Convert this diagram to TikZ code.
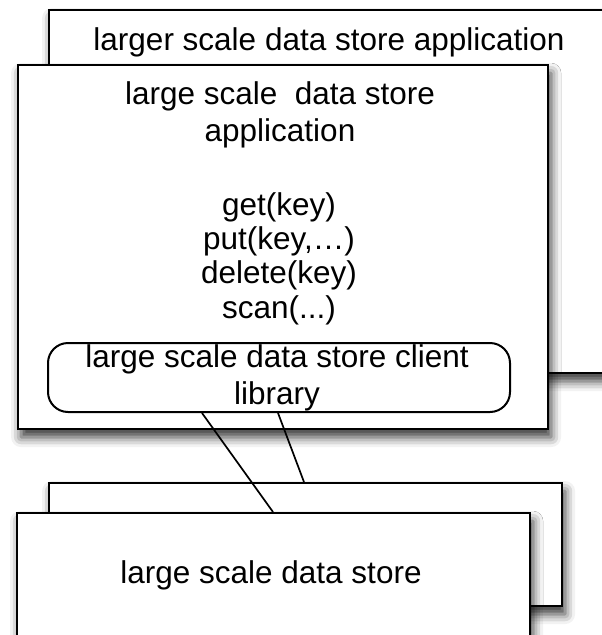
\documentclass[tikz,border=0pt]{standalone}
\usepackage{fontspec}
\setmainfont{Liberation Sans}
\usetikzlibrary{shadows.blur,calc}
\tikzset{
  panel/.style={draw=black, line width=2.2pt, fill=white, anchor=north west, inner sep=0pt,
    blur shadow={shadow xshift=3pt, shadow yshift=-8pt, shadow blur radius=10pt, shadow opacity=80}},
  libbox/.style={draw=black, line width=2pt, fill=white, rounded corners=20pt, anchor=north west, inner sep=0pt},
  lbl/.style={font=\fontsize{31.5}{37}\selectfont, align=center, inner sep=0pt},
  wire/.style={draw=black, line width=1.7pt}
}
\begin{document}
\begin{tikzpicture}[x=1pt,y=1pt]
\useasboundingbox (0,0) rectangle (602,-635);
\clip (0,0) rectangle (602,-635);
% application layer: a stacked pair of windows
\node[panel, minimum width=620pt, minimum height=363pt] (appback) at (48,-9) {};
\node[lbl, anchor=base] (appbacktxt) at (329,-50) {larger scale data store application};
\node[panel, minimum width=530pt, minimum height=364pt] (app) at (17,-64) {};
\node[lbl] (apptxt) at (280,-114.5) {large scale\ \ data store\\application};
\node[lbl, font=\fontsize{31.5}{34.3}\selectfont] (apitxt) at (279,-258.5) {get(key)\\put(key,\dots)\\delete(key)\\scan(...)};
% client library inside the application
\node[libbox, minimum width=462pt, minimum height=69pt] (lib) at (47,-342) {};
\node[lbl] (libtxt) at (277,-377.5) {large scale data store client\\library};
% storage layer: another stacked pair
\node[panel, minimum width=513pt, minimum height=123pt] (storeback) at (48,-482) {};
\node[panel, minimum width=513pt, minimum height=188pt] (store) at (16,-512) {};
\node[lbl, anchor=base] (storetxt) at (271,-583) {large scale data store};
% links from the client library down to the stores
\draw[wire] ($(lib.south west)+(155,0)$) -- ($(store.north west)+(257,0)$);
\draw[wire] ($(lib.south west)+(231,0)$) -- ($(storeback.north west)+(256,0)$);
\end{tikzpicture}
\end{document}
